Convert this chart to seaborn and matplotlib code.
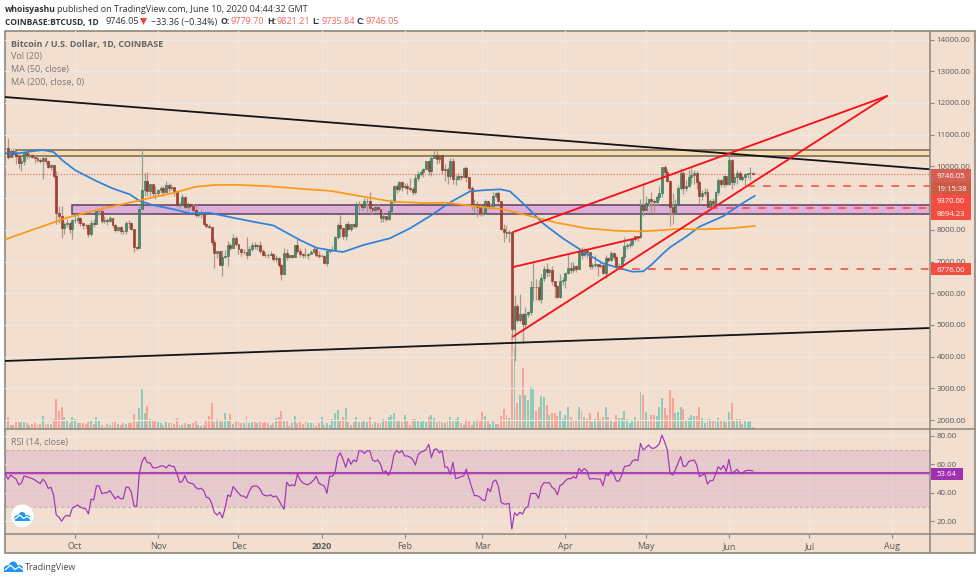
import datetime as dt

import matplotlib
matplotlib.use('Agg')
import matplotlib.dates as mdates
import matplotlib.pyplot as plt
import numpy as np
import pandas as pd
import seaborn as sns
from matplotlib.lines import Line2D
from matplotlib.patches import Circle, Ellipse, Polygon, Rectangle

# daily candles, 5 Sep 2019 .. 10 Jun 2020
closes = [
    10580, 10310, 10480, 10400, 10330, 10110, 10160, 10420, 10360, 10360, 10310, 10260, 10190, 10160, 10280, 10170,
    9990, 10030, 9700, 8530, 8430, 8060, 8190, 8210, 8040, 8300,
    8310, 8380, 8230, 8160, 8150, 7860, 8210, 8180, 8590, 8590, 8270, 8300, 8280, 8360, 8160, 8000,
    8080, 7960, 7950, 8230, 8210, 8030, 7470, 7440, 8660, 9240, 9550, 9220, 9430, 9170, 9150,
    9250, 9310, 9200, 9410, 9310, 9340, 9210, 8770, 8810, 9040, 8720, 8810, 8760, 8630, 8460,
    8490, 8500, 8170, 8120, 8080, 7620, 7280, 7320, 6900, 7130, 7160, 7520, 7430, 7740, 7540,
    7400, 7300, 7300, 7200, 7390, 7530, 7500, 7520, 7340, 7220, 7200, 7190, 7250, 7070, 7110, 6880,
    6620, 7280, 7150, 7190, 7150, 7510, 7320, 7250, 7200, 7190, 7250, 7300, 7390, 7220, 7170,
    7175, 6950, 7340, 7350, 7350, 7760, 8150, 8050, 7815, 8190, 8020, 8180, 8110, 8810, 8820, 8715,
    8900, 8900, 8700, 8630, 8725, 8660, 8385, 8430, 8335, 8600, 8900, 9390, 9300, 9510, 9350,
    9380, 9330, 9290, 9180, 9620, 9770, 9810, 9910, 10170, 9855, 10280, 10350, 10240, 10370, 9900,
    9930, 9700, 10185, 9595, 9600, 9690, 9665, 9965, 9660, 9310, 8785, 8810, 8710, 8525,
    8520, 8910, 8755, 8760, 9070, 9160, 8900, 8040, 7930, 7890, 7940, 4860, 5600, 5170, 5350, 5030,
    5330, 5410, 6190, 6200, 6190, 5810, 6490, 6770, 6680, 6735, 6370, 6240, 5880, 6400, 6430,
    6650, 6800, 6735, 6860, 6775, 7340, 7200, 7370, 7290, 6870, 6880, 6910, 6860, 6880, 6630,
    7120, 7040, 7260, 7130, 6840, 6850, 7130, 7490, 7510, 7540, 7700, 7790, 7760, 8790, 8620,
    8830, 8980, 8900, 8880, 9030, 9150, 9990, 9810, 9540, 8730, 8570, 8810, 9310, 9800, 9320, 9380,
    9680, 9730, 9780, 9510, 9060, 9170, 9180, 8720, 8900, 8840, 9200, 9570, 9430, 9700, 9450,
    10200, 9520, 9670, 9790, 9615, 9670, 9745, 9780, 9780, 9746.05,
]
highs = [
    10640, 10910, 10560, 10590, 10470, 10390, 10290, 10450, 10440, 10420, 10390, 10370, 10300, 10260, 10380, 10290,
    10190, 10080, 10050, 9850, 8750, 8750, 8260, 8330, 8240, 8340,
    8510, 8490, 8390, 8230, 8190, 8170, 8320, 8350, 8640, 8670, 8780, 8430, 8360, 8430, 8370, 8170,
    8100, 8110, 8000, 8290, 8310, 8240, 8040, 7490, 8780, 10540, 9800, 9810, 9430, 9430, 9370,
    9280, 9380, 9380, 9530, 9470, 9450, 9360, 9220, 8890, 9140, 9060, 8880, 8820, 8800, 8780,
    8530, 8670, 8500, 8200, 8170, 8080, 7720, 7340, 7320, 7360, 7350, 7650, 7590, 7860, 7810,
    7550, 7420, 7390, 7770, 7490, 7620, 7620, 7560, 7650, 7400, 7290, 7270, 7320, 7280, 7220, 7140,
    6930, 7430, 7380, 7220, 7190, 7520, 7700, 7430, 7280, 7440, 7270, 7360, 7520, 7410, 7320,
    7250, 7210, 7400, 7390, 7500, 7790, 8210, 8460, 8050, 8200, 8290, 8190, 8200, 8880, 8900, 8850,
    9000, 8990, 9190, 8730, 8780, 8800, 8670, 8520, 8440, 8600, 8980, 9420, 9440, 9550, 9530,
    9470, 9470, 9620, 9350, 9770, 9860, 9880, 9950, 10180, 10190, 10400, 10490, 10520, 10400, 10380,
    10060, 9970, 10280, 10250, 9740, 9780, 9700, 9990, 10000, 9660, 9380, 8980, 8900, 8780,
    8760, 8970, 8910, 8850, 9180, 9200, 9220, 8900, 8180, 8150, 7990, 7970, 5950, 5670, 5960, 5380,
    5550, 5450, 6400, 6970, 6450, 6430, 6600, 6850, 6950, 6790, 6860, 6300, 6260, 6600, 6520,
    6680, 7280, 7000, 6990, 6890, 7360, 7450, 7420, 7370, 7300, 6950, 7190, 6900, 6980, 6930,
    7190, 7150, 7320, 7310, 7200, 6950, 7170, 7770, 7580, 7700, 7720, 7800, 7790, 8960, 9470,
    9060, 9010, 9180, 8970, 9100, 9390, 9990, 10050, 9920, 9580, 9170, 8980, 9400, 9940, 9840, 9580,
    9880, 9950, 9900, 9840, 9570, 9260, 9310, 9300, 8980, 9010, 9230, 9620, 9600, 9740, 9710,
    10380, 10230, 9780, 9880, 9860, 9730, 9800, 9800, 9990, 9821.21,
]
lows = [
    10400, 10230, 10290, 10300, 10060, 9960, 9870, 10040, 10230, 10280, 10280, 10110, 10130, 10110, 9610, 10060,
    9960, 9880, 9620, 8180, 8230, 7730, 7860, 8100, 7900, 7720,
    8210, 8230, 8120, 8010, 8010, 7780, 7790, 8100, 8180, 8480, 8230, 8220, 8150, 8240, 8100, 7920,
    7950, 7880, 7860, 7880, 8060, 8000, 7300, 7360, 7420, 8960, 9070, 9060, 9060, 9040, 8970,
    9060, 9160, 9060, 9180, 9190, 9250, 9070, 8730, 8700, 8800, 8670, 8580, 8700, 8600, 8410,
    8390, 8380, 8150, 8050, 8050, 7520, 6800, 7120, 6880, 6530, 7100, 6850, 7370, 7420, 7500,
    7230, 7160, 7240, 7090, 7170, 7330, 7410, 7370, 7270, 7170, 7130, 7100, 7220, 7020, 7000, 6820,
    6430, 6560, 7050, 7120, 7120, 7140, 7260, 7130, 7110, 7130, 7080, 7240, 7260, 7130, 7120,
    7150, 6920, 6850, 7270, 7320, 7340, 7720, 7780, 7720, 7680, 8000, 7960, 8070, 8070, 8570, 8600,
    8650, 8520, 8520, 8490, 8570, 8570, 8240, 8240, 8280, 8300, 8570, 8860, 9160, 9220, 9230,
    9300, 9140, 9210, 9090, 9140, 9530, 9710, 9670, 9880, 9730, 9710, 10270, 10080, 10120, 9770,
    9530, 9440, 9600, 9450, 9400, 9570, 9580, 9650, 9500, 9250, 8620, 8520, 8400, 8450,
    8420, 8490, 8650, 8650, 8740, 9010, 8860, 8000, 7630, 7730, 7600, 4570, 3850, 5090, 5100, 4440,
    4940, 5250, 5300, 5750, 5780, 5740, 5690, 6380, 6520, 6530, 6270, 5860, 5860, 5850, 6250,
    6150, 6600, 6650, 6670, 6680, 6770, 7090, 7160, 7110, 6750, 6770, 6780, 6550, 6800, 6600,
    6470, 6980, 7030, 7060, 6760, 6760, 6790, 7030, 7380, 7440, 7500, 7640, 7660, 7730, 8450,
    8620, 8760, 8530, 8530, 8760, 8930, 9030, 9710, 9520, 8110, 8190, 8570, 8800, 9250, 9130, 9220,
    9350, 9460, 9460, 9300, 8820, 8940, 9080, 8700, 8630, 8700, 8810, 9110, 9340, 9350, 9370,
    9420, 9290, 9400, 9460, 9580, 9530, 9380, 9640, 9570, 9735.84,
]
first_open = 10570
# volume, arbitrary units
volume = [
    18, 38, 13, 13, 21, 21, 21, 21, 18, 13, 15, 20, 13, 15, 40, 15, 15, 15, 30, 91, 55, 66, 38, 24, 18, 36, 31, 20, 20, 20,
    16, 23, 25, 16, 36, 26, 13, 8, 16, 13, 23, 23, 16, 13, 18, 16, 20, 20, 46, 23,
    64, 124, 50, 70, 30, 26, 24, 21, 18, 13, 21, 20, 18, 15, 33, 13, 13, 18, 16, 16, 18, 28, 13, 11, 13, 26, 41, 80, 23, 30,
    28, 23, 48, 26, 46, 16, 21, 21, 20, 20, 41, 20, 23, 23, 18, 23, 20, 23, 18, 13, 20, 33, 36, 56, 26, 26, 10, 18, 40, 18,
    21, 16, 21, 20, 20, 18, 10, 18, 36, 13, 18, 13, 30, 48, 58, 26, 38, 64, 23, 13, 23, 38, 21, 23, 28, 23, 38, 15, 21, 20,
    20, 31, 28, 38, 43, 48, 28, 25, 23, 43, 26, 13, 31, 30, 28, 23, 28, 23, 38, 43, 33, 23, 28, 23, 18, 26, 36, 28, 30, 38,
    18, 13, 30, 28, 13, 26, 30, 25, 51, 40, 26,
    16, 25, 16, 16, 40, 61, 43, 34, 283, 248, 78, 103, 184, 103, 88, 126, 123, 56, 66, 100, 96, 73, 43, 49, 49, 40, 56, 30,
    43, 68, 36, 26, 24, 66, 54, 38, 31, 48, 21, 30, 53, 30, 36, 66, 36, 28, 22, 44, 35, 33, 54, 31, 19, 25, 38, 28, 112, 104,
    52, 27, 42, 43, 40, 66, 93, 64, 44, 119, 93, 49, 52, 68, 60, 26, 33, 43, 41, 40, 66, 35, 18, 32, 30, 28, 28, 35, 28, 26,
    21, 52, 78, 28, 30, 31, 16, 28, 22, 24, 6,
]
rsi = [
    53.6, 49.5, 52.5, 51, 49.7, 45.7, 46.7, 51.8, 51.3, 50.6, 50, 49, 47.6, 46.4, 49.5, 47.4, 43, 43.9, 38.5, 24.5,
    22.9, 20, 23, 24.3, 23.4, 29.4, 30.3, 31.5, 30, 29, 28.7, 25.2, 35.5, 35, 44.8, 44.8, 39.4, 40, 40, 41.5,
    38.7, 35.7, 37.6, 35.7, 36, 43.9, 43.9, 40.6, 30.8, 30.3, 53.6, 61.8, 65, 61, 61, 57.6, 57.4, 57.9, 58.8, 58.8,
    57.4, 59.5, 58.6, 58.3, 53.6, 47.4, 47.8, 52, 47.6, 46.7, 46.4, 43.9, 42.5, 43.2, 41.5, 36.9, 36.4, 32.7, 26.2, 24.3,
    26.4, 22.4, 29.2, 38.5, 37.3, 44.3, 42, 39.7, 37.8, 37.6, 36.2, 40.8, 44.3, 44.8, 44.6, 42.7, 39, 38, 37.8, 38.7,
    37, 37.8, 35, 31.5, 28.5, 47.4, 44.8, 45.5, 45, 53.2, 49, 47, 46, 45.7, 47, 48.8, 51.6, 46.7, 45.7, 44.8,
    39.7, 51.6, 51.6, 54, 65, 68, 63.4, 57.9, 64, 60, 63, 61.8, 69.5, 69.3, 67.6, 69.5, 69.5, 63, 62, 63,
    60, 54, 55.3, 52.3, 57, 66.5, 69.7, 68, 69.5, 65.8, 65.8, 65, 63.4, 59.5, 66.5, 68.6, 69, 70.4, 74, 64.6,
    70.4, 70.7, 68, 69.5, 57.9, 57.9, 53, 61.4, 50, 50.4, 51.3, 51.8, 56.5, 50, 44, 38, 38, 37, 35, 34.5,
    43,
    40.8, 47.8, 49, 44.3, 33.3, 32.1, 32.1, 32.6, 14.6, 26, 24, 26.3, 25.1, 29.1, 30.3, 39.4, 39.6, 39.4, 36.1, 44.3,
    47.1, 46.9, 47.1, 43.8, 42.6, 38.6, 45.2, 46.1, 48.5, 49.9, 49.9, 51.3, 50.1, 57.1, 54.8, 56.9, 55.5, 49.6, 49.9, 49.9,
    49.6, 49.6, 45, 53.1, 52, 55.7, 52.9, 48.2, 48.2, 52.4, 58.3, 58.8, 59.2, 62.3, 63.2, 62.5, 74.6, 70, 71.6, 73.5,
    71.4, 71.1, 72.3, 74.2, 80.5, 75.8, 70, 54.1, 52.4, 56, 60.6, 65.3, 58.3, 58.8, 62, 62.5, 63, 59.5, 51.3, 52.4,
    53.1, 46.1, 48.5, 48.5, 52.7, 58.3, 56.4, 59.2, 54.8, 63.4, 53.6, 54.8, 56.4, 54.1, 53.9, 55.3, 55.7, 55.7, 55.3,
]

# moving averages, read at spaced days (days since first candle)
ma50_days = [0, 5.5, 10.5, 14, 18, 21.6, 26, 34, 40, 46.5, 50, 55, 63, 69, 76, 85, 92.5, 100, 105, 110, 116, 121, 126,
             133.6, 143.5, 151, 158.5, 166, 173.4, 179.6, 184.6, 188.3, 194.5, 200.6, 208, 215.7, 223, 229.4, 234, 238,
             241, 245.5, 248, 254, 259, 268, 274, 279.7]
ma50_vals = [10410, 10420, 10484, 10515, 10452, 10170, 9884, 9537, 9306, 9116, 8916, 8780, 8643, 8517, 8538, 8380, 8254,
             8138, 7906, 7675, 7433, 7360, 7300, 7520, 7732, 8046, 8435, 8867, 9214, 9255, 9277, 9214, 8729, 8205, 7732,
             7310, 6943, 6785, 6678, 6690, 6890, 7258, 7446, 7783, 8097, 8435, 8782, 9076]
ma200_days = [0, 10.5, 23, 35, 50, 63, 71, 77.6, 85, 97.5, 110, 121, 133.6, 144.7, 155.9, 164.7, 174.5, 185.7, 195.8,
              205.7, 216.9, 228, 236.8, 244.3, 250.5, 260.4, 270.4, 279.7]
ma200_vals = [7696, 8012, 8380, 8643, 8927, 9169, 9358, 9410, 9421, 9379, 9295, 9232, 9045, 8886, 8845, 8855, 8751, 8647,
              8435, 8224, 8045, 7971, 7950, 7984, 8025, 8015, 8045, 8120]

# drawings on the chart
black_down_days = [-0.3, 345]
black_down_vals = [12189, 9909]
black_up_days = [-0.3, 345]
black_up_vals = [3861, 4902]
wedge_top_days = [189.5, 329]
wedge_top_vals = [7931, 12221]
wedge_low_days = [189.5, 329]
wedge_low_vals = [4634, 12221]
channel_days = [189.5, 236.8]
channel_vals = [6826, 7763]
dashed_levels = [9370, 8694.23, 6776]
dashed_starts = [276.6, 263, 228]
zone_orange = [4, 10337, 10533]
zone_purple = [25, 8489, 8770]
last_price = 9746.05

price_ticks = list(range(2000, 15000, 1000))
hidden_price_ticks = [9000]
rsi_ticks = [20, 40, 60, 80]
month_dates = ['2019-10-01', '2019-11-01', '2019-12-01', '2020-01-01', '2020-02-01', '2020-03-01', '2020-04-01',
               '2020-05-01', '2020-06-01', '2020-07-01', '2020-08-01']
month_labels = ['Oct', 'Nov', 'Dec', '2020', 'Feb', 'Mar', 'Apr', 'May', 'Jun', 'Jul', 'Aug']

assert len(closes) == len(highs) == len(lows) == len(volume) == len(rsi) == 280, (
    len(closes), len(highs), len(lows), len(volume), len(rsi))

BG = '#f2dfcf'
GRID = '#efe7e0'
FRAME = '#8c8780'
TICK = '#5a5a5a'
FONT = ['Open Sans', 'DejaVu Sans']
W, H = 980, 580

sns.set_theme(style='ticks')
plt.rcParams['font.family'] = FONT


def box(left, top, right, bottom):
    return [left / W, 1 - bottom / H, (right - left) / W, (bottom - top) / H]


t0 = mdates.date2num(dt.date(2019, 9, 5))
x_days = t0 + np.arange(len(closes))
opens = [first_open] + closes[:-1]
up = ['up' if c >= o else 'down' for c, o in zip(closes, opens)]
xmin, xmax = t0 - 0.31, t0 + 345.03
month_x = mdates.date2num(pd.to_datetime(month_dates).to_pydatetime())

fig = plt.figure(figsize=(W / 100, H / 100), dpi=100, facecolor='white')

# backdrop with frame, in pixel coordinates
back = fig.add_axes([0, 0, 1, 1], zorder=0)
back.set_xlim(0, W)
back.set_ylim(H, 0)
back.axis('off')
back.add_patch(Rectangle((4.5, 31), 970.5, 522, facecolor=BG, edgecolor=FRAME, lw=1.2))

# volume sits behind the candles
ax_vol = fig.add_axes(box(4.5, 31, 930, 429.3), zorder=1)
sns.barplot(x=x_days, y=volume, hue=up, palette={'up': '#8fcab8', 'down': '#f6a497'}, native_scale=True,
            width=0.72, dodge=False, legend=False, saturation=1, linewidth=0, ax=ax_vol)
ax_vol.set_xlim(xmin, xmax)
ax_vol.set_ylim(0, 1195)
ax_vol.patch.set_alpha(0)
for s in ax_vol.spines.values():
    s.set_visible(False)
ax_vol.set_xticks(month_x)
ax_vol.set_yticks([])
ax_vol.set_xticklabels([])
ax_vol.set_xlabel('')
ax_vol.tick_params(length=0)
ax_vol.grid(axis='x', color=GRID, lw=0.9)
ax_vol.set_axisbelow(True)

# price pane
ax = fig.add_axes(box(4.5, 31, 930, 429.3), zorder=2)
ax.patch.set_alpha(0)
ax.set_xlim(xmin, xmax)
ax.set_ylim(1707, 14271)
ax.set_xticks(month_x)
ax.set_xticklabels([])
ax.set_yticks(price_ticks)
ax.set_yticklabels(['' if p in hidden_price_ticks else f'{p:.2f}' for p in price_ticks])
ax.yaxis.tick_right()
ax.tick_params(axis='x', length=0)
ax.tick_params(axis='y', length=3, width=0.8, color=FRAME, labelcolor=TICK, labelsize=5.8, pad=1.6)
ax.grid(axis='y', color=GRID, lw=0.9)
ax.set_axisbelow(True)
for s in ax.spines.values():
    s.set_visible(False)

for zone, face, edge in [(zone_orange, '#f9dcae', '#6d6558'), (zone_purple, '#deb0d8', '#5c4060')]:
    ax.add_patch(Rectangle((t0 + zone[0], zone[1]), xmax - t0 - zone[0], zone[2] - zone[1], facecolor=face,
                           edgecolor=edge, lw=1.1, zorder=2))

# candles
body_col = ['#4a8a6a' if u == 'up' else '#a63d2f' for u in up]
edge_col = ['#2f6a4e' if u == 'up' else '#8a2f24' for u in up]
wick_col = ['#95a092' if u == 'up' else '#b0978a' for u in up]
ax.vlines(x_days, lows, highs, colors=wick_col, lw=0.9, zorder=3)
bottoms = np.minimum(opens, closes)
heights = np.abs(np.array(closes) - np.array(opens))
ax.bar(x_days, heights, bottom=bottoms, width=0.72, color=body_col, edgecolor=edge_col, lw=0.4, zorder=3.5)

ax.hlines(last_price, xmin, xmax, color='#e2685c', lw=0.8, linestyles=(0, (1, 1.5)), zorder=3)

sns.lineplot(x=t0 + np.array(ma50_days), y=ma50_vals, color='#2c83d8', lw=1.25, estimator=None, sort=False, ax=ax, zorder=4)
sns.lineplot(x=t0 + np.array(ma200_days), y=ma200_vals, color='#fb9a14', lw=1.25, estimator=None, sort=False, ax=ax, zorder=4)

for days, vals in [(black_down_days, black_down_vals), (black_up_days, black_up_vals)]:
    sns.lineplot(x=t0 + np.array(days), y=vals, color='#141414', lw=1.3, estimator=None, sort=False, ax=ax, zorder=5)
for days, vals in [(wedge_top_days, wedge_top_vals), (wedge_low_days, wedge_low_vals), (channel_days, channel_vals)]:
    sns.lineplot(x=t0 + np.array(days), y=vals, color='#f4131b', lw=1.35, estimator=None, sort=False, ax=ax, zorder=5)
for level, start in zip(dashed_levels, dashed_starts):
    ax.hlines(level, t0 + start, xmax, color='#f6443a', lw=1.1, linestyles=(0, (5, 5.5)), zorder=5)
ax.set_xlim(xmin, xmax)
ax.set_ylim(1707, 14271)
ax.set_xlabel('')
ax.set_ylabel('')

# RSI pane
ax_rsi = fig.add_axes(box(4.5, 429.3, 930, 533.7), zorder=2)
ax_rsi.patch.set_alpha(0)
ax_rsi.axhspan(30, 70, color='#9c27b0', alpha=0.12, lw=0, zorder=1)
ax_rsi.hlines([30, 70], xmin, xmax, color='#c0b0b8', lw=0.8, linestyles=(0, (3, 2)), zorder=1.5)
ax_rsi.hlines(53.64, xmin, xmax, color='#9c27b0', lw=2.4, alpha=0.2, zorder=2)
ax_rsi.hlines(53.64, xmin, xmax, color='#9c27b0', lw=1.1, zorder=2.5)
sns.lineplot(x=x_days, y=rsi, color='#9c35b5', lw=0.85, estimator=None, ax=ax_rsi, zorder=3)
ax_rsi.set_xlim(xmin, xmax)
ax_rsi.set_ylim(11.3, 84.5)
ax_rsi.set_xticks(month_x)
ax_rsi.set_xticklabels(month_labels)
ax_rsi.get_xticklabels()[3].set_fontweight('bold')
ax_rsi.set_yticks(rsi_ticks)
ax_rsi.set_yticklabels([f'{v:.2f}' for v in rsi_ticks])
ax_rsi.yaxis.tick_right()
ax_rsi.tick_params(axis='x', length=3, width=0.8, color=FRAME, labelcolor=TICK, labelsize=6.4, pad=3.2)
ax_rsi.tick_params(axis='y', length=3, width=0.8, color=FRAME, labelcolor=TICK, labelsize=5.8, pad=1.6)
ax_rsi.grid(axis='both', color=GRID, lw=0.9)
ax_rsi.set_axisbelow(True)
ax_rsi.set_xlabel('')
ax_rsi.set_ylabel('')
for s in ax_rsi.spines.values():
    s.set_visible(False)

# overlay in pixel coordinates: separators, price flags, header, logos
top = fig.add_axes([0, 0, 1, 1], zorder=5)
top.set_xlim(0, W)
top.set_ylim(H, 0)
top.axis('off')
for xs, ys in [((4.5, 975), (429.3, 429.3)), ((4.5, 975), (533.7, 533.7)), ((930, 930), (31, 553))]:
    top.add_line(Line2D(xs, ys, color=FRAME, lw=1.1))

flags = [(169.3, 181.8, '#d6574b', '9746.05', 970.5), (181.8, 194.3, '#c9533f', '19:15:38', 970.5),
         (194.3, 206.8, '#f4453a', '9370.00', 970.5), (206.8, 219.6, '#f4453a', '8694.23', 970.5),
         (263, 275.2, '#f4453a', '6776.00', 970.5), (467.5, 479.5, '#9c27b0', '53.64', 962.5)]
for y0, y1, col, label, x1 in flags:
    top.add_patch(Rectangle((930.5, y0), x1 - 930.5, y1 - y0, facecolor=col, edgecolor='none', alpha=0.95))
    top.text(936.5, (y0 + y1) / 2, label, color='white', fontsize=5.6, ha='left', va='center_baseline')


def put(x, y, s, color='#333333', weight='normal', size=6.5):
    top.text(x, y, s, color=color, fontweight=weight, fontsize=size, ha='left', va='center_baseline')


put(5, 9, 'whoisyashu', weight='bold', size=6.2)
put(57, 9, 'published on TradingView.com, June 10, 2020 04:44:32 GMT')
put(5, 21, 'COINBASE:BTCUSD, 1D', weight='bold', size=6.1)
put(105, 21, '9746.05')
top.add_patch(Polygon([(140, 18), (147, 18), (143.5, 25)], facecolor='#f44336', edgecolor='none'))
put(151, 21, '\u221233.36 (\u22120.34%)')
for x_lab, lab, x_val, val in [(220, 'O:', 230, '9779.70'), (267, 'H:', 276, '9821.21'),
                               (312, 'L:', 321, '9735.84'), (356, 'C:', 365, '9746.05')]:
    put(x_lab, 21, lab, weight='bold', size=6.2)
    put(x_val, 21, val, color='#f0645a')

put(11, 44, 'Bitcoin / U.S. Dollar, 1D, COINBASE', color='#666666', weight='bold', size=6.5)
put(11, 56, 'Vol (20)', color='#777777')
put(11, 68.5, 'MA (50, close)', color='#777777')
put(11, 81, 'MA (200, close, 0)', color='#777777')
put(11, 442, 'RSI (14, close)', color='#777777')


def cloud(cx, cy, s):
    blue = '#2196f3'
    top.add_patch(Ellipse((cx - 0.42 * s, cy + 0.12 * s), 0.6 * s, 0.5 * s, color=blue, lw=0))
    top.add_patch(Ellipse((cx - 0.02 * s, cy - 0.1 * s), 0.62 * s, 0.62 * s, color=blue, lw=0))
    top.add_patch(Ellipse((cx + 0.42 * s, cy + 0.1 * s), 0.58 * s, 0.5 * s, color=blue, lw=0))
    top.add_patch(Rectangle((cx - 0.68 * s, cy + 0.1 * s), 1.36 * s, 0.27 * s, color=blue, lw=0))
    top.add_line(Line2D([cx - 0.62 * s, cx - 0.22 * s, cx + 0.12 * s, cx + 0.42 * s, cx + 0.7 * s],
                        [cy + 0.2 * s, cy - 0.12 * s, cy + 0.18 * s, cy - 0.02 * s, cy + 0.2 * s],
                        color='white', lw=0.9))


top.add_patch(Circle((22.3, 516), 11.8, facecolor='white', edgecolor='#e8dcd2', lw=0.6))
cloud(22.3, 516.5, 11)
cloud(13.5, 567, 13.5)
put(25, 566.5, 'TradingView', color='#4a4a4a', size=6.5)

fig.savefig('out.png', dpi=100)
